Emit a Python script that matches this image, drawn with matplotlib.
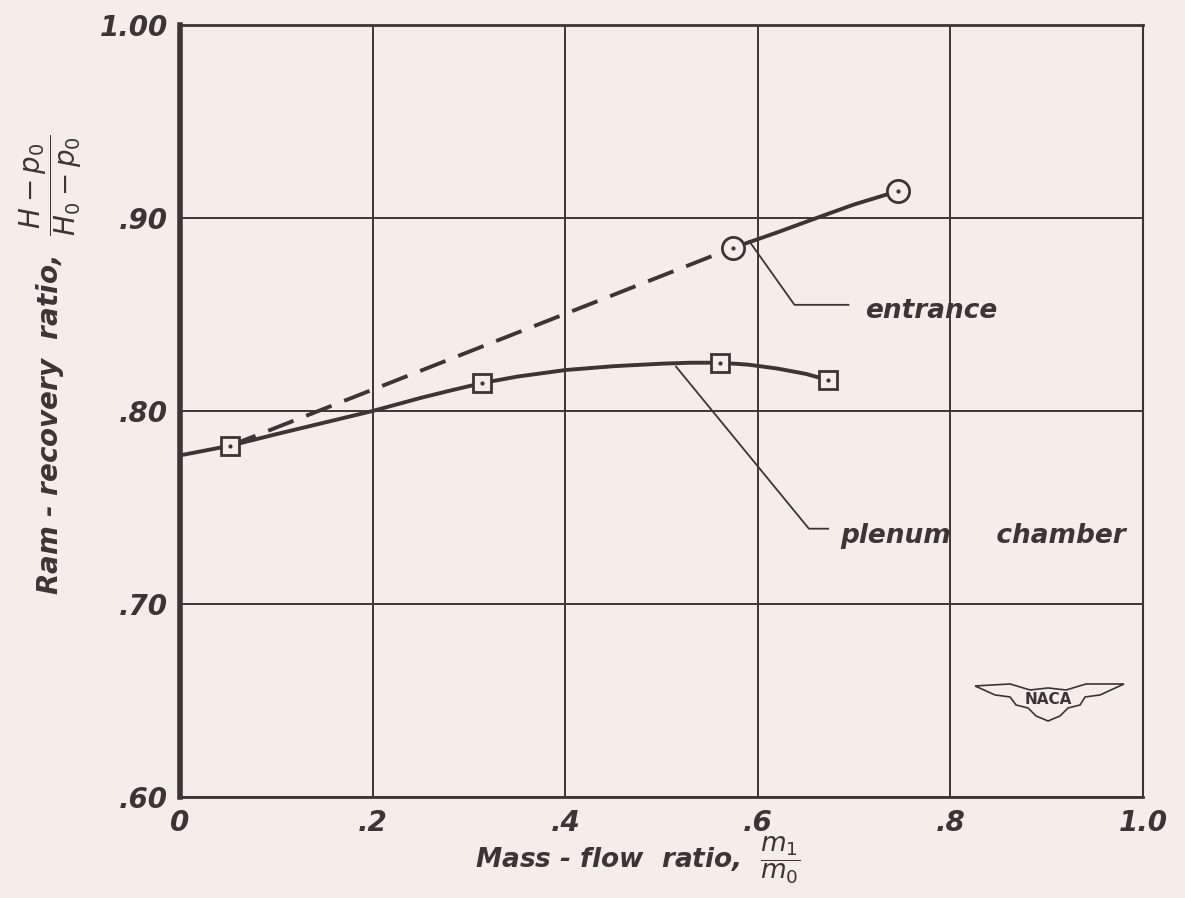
import matplotlib
matplotlib.use("Agg")
import matplotlib.pyplot as plt
from matplotlib.patches import Polygon

# values
plenum_x = [0.052, 0.314, 0.561, 0.673]
plenum_y = [0.782, 0.8145, 0.825, 0.816]
# faired curve through the plenum points
plenum_curve_x = [0.0, 0.052, 0.10, 0.15, 0.20, 0.25, 0.28, 0.314, 0.35, 0.40, 0.45,
                  0.50, 0.53, 0.561, 0.59, 0.62, 0.65, 0.673]
plenum_curve_y = [0.777, 0.782, 0.788, 0.794, 0.800, 0.8068, 0.8105, 0.8145, 0.8178,
                  0.8212, 0.8232, 0.8245, 0.8250, 0.825, 0.8240, 0.8220, 0.8192, 0.816]

entrance_x = [0.574, 0.746]
entrance_y = [0.8845, 0.914]
entrance_curve_x = [0.574, 0.62, 0.661, 0.70, 0.746]
entrance_curve_y = [0.8845, 0.8925, 0.900, 0.907, 0.914]
# dashed extrapolation back to the first plenum point
dash_x = [0.052, 0.574]
dash_y = [0.782, 0.8845]

x_ticks = [0, 0.2, 0.4, 0.6, 0.8, 1.0]
x_labels = ["0", ".2", ".4", ".6", ".8", "1.0"]
y_ticks = [0.60, 0.70, 0.80, 0.90, 1.00]
y_labels = [".60", ".70", ".80", ".90", "1.00"]

ink = "#3b3634"
paper = "#f3eeea"

plt.rcParams["font.family"] = ["DejaVu Sans"]
plt.rcParams["mathtext.fontset"] = "dejavusans"
plt.rcParams["mathtext.default"] = "it"

fig = plt.figure(figsize=(11.85, 8.98), dpi=100, facecolor=paper)
ax = fig.add_axes([0.152, 0.1125, 0.8126, 0.8597], facecolor=paper)

ax.set_xlim(0, 1.0)
ax.set_ylim(0.60, 1.00)
ax.set_xticks(x_ticks)
ax.set_xticklabels(x_labels)
ax.set_yticks(y_ticks)
ax.set_yticklabels(y_labels)
ax.tick_params(length=0, labelsize=20, labelcolor=ink, pad=9)
for lab in ax.get_xticklabels() + ax.get_yticklabels():
    lab.set_style("italic")
    lab.set_weight("bold")
ax.grid(True, color=ink, lw=1.4)
ax.set_axisbelow(True)

ax.spines["left"].set_linewidth(4)
ax.spines["bottom"].set_linewidth(2)
ax.spines["top"].set_linewidth(2)
ax.spines["right"].set_linewidth(1.5)
for s in ax.spines.values():
    s.set_color(ink)

# curves
ax.plot(plenum_curve_x, plenum_curve_y, color=ink, lw=2.8, solid_capstyle="round",
        solid_joinstyle="round", zorder=3)
ax.plot(entrance_curve_x, entrance_curve_y, color=ink, lw=2.8, solid_capstyle="round",
        solid_joinstyle="round", zorder=3)
ax.plot(dash_x, dash_y, color=ink, lw=2.8, dashes=(7, 3.5), zorder=3)

# symbols with centre dots
ax.plot(plenum_x, plenum_y, ls="none", marker="s", ms=13, mfc=paper, mec=ink, mew=2, zorder=4)
ax.plot(entrance_x, entrance_y, ls="none", marker="o", ms=16, mfc=paper, mec=ink, mew=2, zorder=4)
ax.plot(plenum_x + entrance_x, plenum_y + entrance_y, ls="none", marker="o", ms=2, color=ink, zorder=5)

# leader lines and labels
ax.plot([0.591, 0.638, 0.694], [0.888, 0.855, 0.855], color=ink, lw=1.3, zorder=3)
ax.text(0.711, 0.852, "entrance", fontsize=19, style="italic", weight="bold", color=ink,
        va="center", ha="left")
ax.plot([0.515, 0.653, 0.673], [0.823, 0.739, 0.739], color=ink, lw=1.3, zorder=3)
ax.text(0.686, 0.735, "plenum     chamber", fontsize=19, style="italic", weight="bold",
        color=ink, va="center", ha="left")

fig.text(0.538, 0.042, r"Mass - flow  ratio,  $\dfrac{m_1}{m_0}$", fontsize=19,
         style="italic", weight="bold", color=ink, ha="center", va="center")
fig.text(0.043, 0.594, r"Ram - recovery  ratio,  $\dfrac{H-p_0}{H_0-p_0}$",
         fontsize=20, style="italic", weight="bold", color=ink, rotation=90,
         ha="center", va="center")

# NACA wing mark
wing_px = [(975, 686), (1010, 684), (1030, 690), (1048, 688), (1066, 690), (1086, 684),
           (1124, 684), (1100, 695), (1085, 697), (1080, 705), (1068, 708), (1060, 716),
           (1048, 721), (1036, 716), (1028, 708), (1016, 705), (1010, 697), (995, 695)]
wing = [((px - 180) / 963, (797 - py) / 772) for px, py in wing_px]
ax.add_patch(Polygon(wing, closed=True, fill=False, ec=ink, lw=1.2,
                     transform=ax.transAxes, zorder=3))
ax.text((1048 - 180) / 963, (797 - 700) / 772, "NACA", transform=ax.transAxes,
        fontsize=11, weight="bold", color=ink, ha="center", va="center", zorder=4)

fig.savefig("out.png", dpi=100, facecolor=paper)
